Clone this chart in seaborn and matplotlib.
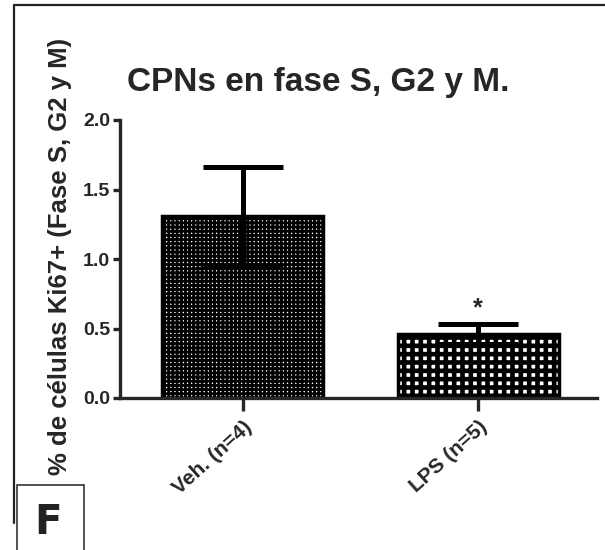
import matplotlib
matplotlib.use("Agg")
import matplotlib.pyplot as plt
import seaborn as sns
import pandas as pd
from matplotlib.lines import Line2D
from matplotlib.patches import Rectangle

categories = ["Veh. (n=4)", "LPS (n=5)"]
means = [1.31, 0.46]
sems = [0.35, 0.07]
yticks = [0.0, 0.5, 1.0, 1.5, 2.0]
title = "CPNs en fase S, G2 y M."
ylabel = "% de células Ki67+ (Fase S, G2 y M)"
hatches = ["++++", "++"]
hatch_lws = [2.0, 3.3]

sns.set_theme(style="ticks")
plt.rcParams['font.family'] = ['Liberation Sans', 'DejaVu Sans']
plt.rcParams['hatch.color'] = 'black'

fig = plt.figure(figsize=(6.05, 5.5), dpi=100)
ax = fig.add_axes([120/605, 1-398/550, (597-120)/605, (398-120)/550])

df = pd.DataFrame({"grupo": categories, "valor": means})
sns.barplot(data=df, x="grupo", y="valor", ax=ax, width=0.685,
            color="white", edgecolor="black", linewidth=2.5, errorbar=None)

for p, h, lw in zip(ax.patches, hatches, hatch_lws):
    p.set_hatch(h)
    p.set_facecolor("white")
    p.set_edgecolor("black")
    if hasattr(p, "set_hatch_linewidth"):
        p.set_hatch_linewidth(lw)

ax.errorbar(range(len(categories)), means, yerr=sems, fmt="none",
            ecolor="black", elinewidth=3.6, capsize=29, capthick=3.6, zorder=5)

ax.text(1, means[1] + sems[1] + 0.03, "*", ha="center", va="bottom",
        fontsize=18, fontweight="bold")

ax.set_ylim(0, 2.0)
ax.set_xlim(-0.523, 1.506)
ax.set_yticks(yticks)
ax.set_yticklabels([f"{v:.1f}" for v in yticks], fontsize=14, fontweight="bold")
ax.set_xticks(range(len(categories)))
ax.set_xticklabels(categories, rotation=42, ha="right", rotation_mode="anchor",
                   fontsize=15, fontweight="bold")
ax.set_xlabel("")
ax.set_ylabel(ylabel, fontsize=18.5, fontweight="bold")
ax.yaxis.set_label_coords(-0.101, 0.51)

sns.despine(ax=ax)
ax.spines['left'].set_linewidth(2.4)
ax.spines['bottom'].set_linewidth(2.4)
ax.tick_params(axis='y', length=5, width=2.4, pad=2)
ax.tick_params(axis='x', length=9, width=2.4, pad=5)

fig.text(318/605, 1-83/550, title, ha="center", va="center",
         fontsize=24, fontweight="bold")

# outer frame
fig.add_artist(Line2D([14/605, 14/605], [1-523/550, 1-5/550], color="#222222",
                      lw=1.6, transform=fig.transFigure))
fig.add_artist(Line2D([14/605, 1.0], [1-5/550, 1-5/550], color="#222222",
                      lw=1.6, transform=fig.transFigure))
# panel letter box
fig.add_artist(Rectangle((17/605, -0.01), (84-17)/605, 0.01 + (550-485)/550,
                         fill=False, edgecolor="#333333", lw=1.2,
                         transform=fig.transFigure))
fig.text(48/605, 1-523/550, "F", ha="center", va="center", fontsize=29,
         fontweight="bold", color="#222222", family=["DejaVu Sans"])

fig.savefig("out.png", dpi=100)
